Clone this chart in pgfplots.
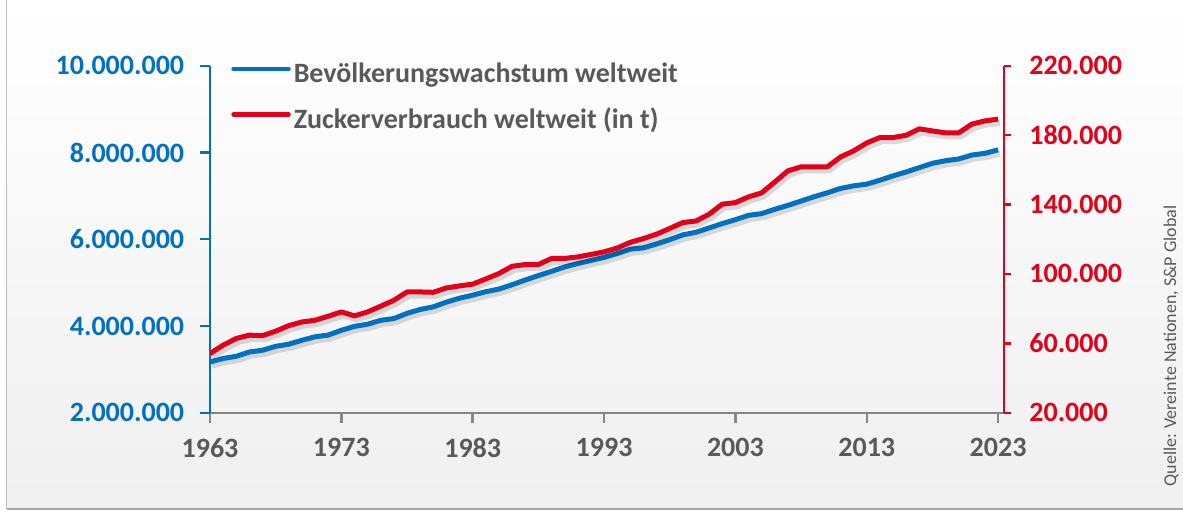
\documentclass[border=0pt]{standalone}
\usepackage{pgfplots}
\pgfplotsset{compat=1.18}
\usepackage{pgfplotstable}
\usepackage{fontspec}
\setmainfont{Carlito}
\definecolor{cblue}{HTML}{0070C0}
\definecolor{cred}{HTML}{E2001A}
\definecolor{ctext}{HTML}{595959}
\definecolor{caxis}{HTML}{868686}

\pgfplotstableread{
year pop
1963 3170000
1964 3250000
1965 3300000
1966 3400000
1967 3440000
1968 3530000
1969 3580000
1970 3670000
1971 3750000
1972 3790000
1973 3900000
1974 3990000
1975 4040000
1976 4130000
1977 4170000
1978 4290000
1979 4380000
1980 4440000
1981 4550000
1982 4640000
1983 4710000
1984 4790000
1985 4850000
1986 4950000
1987 5060000
1988 5160000
1989 5260000
1990 5360000
1991 5440000
1992 5510000
1993 5580000
1994 5670000
1995 5770000
1996 5800000
1997 5890000
1998 5990000
1999 6100000
2000 6160000
2001 6260000
2002 6360000
2003 6450000
2004 6550000
2005 6590000
2006 6690000
2007 6780000
2008 6880000
2009 6980000
2010 7070000
2011 7170000
2012 7230000
2013 7270000
2014 7360000
2015 7460000
2016 7550000
2017 7650000
2018 7750000
2019 7810000
2020 7850000
2021 7940000
2022 7980000
2023 8060000
}\popdata

\pgfplotstableread{
year sugar
1963 54100
1964 58900
1965 62800
1966 64700
1967 64400
1968 67000
1969 70200
1970 72300
1971 73300
1972 75600
1973 78100
1974 75800
1975 78100
1976 81400
1977 84800
1978 89600
1979 89600
1980 89400
1981 91900
1982 93100
1983 94100
1984 97100
1985 100200
1986 104400
1987 105400
1988 105400
1989 108900
1990 108900
1991 109800
1992 111200
1993 112700
1994 114900
1995 118200
1996 120400
1997 122900
1998 126200
1999 129600
2000 130500
2001 134400
2002 140200
2003 141100
2004 144400
2005 146700
2006 153000
2007 159400
2008 161700
2009 161700
2010 161700
2011 167400
2012 170900
2013 175500
2014 178600
2015 178600
2016 179900
2017 183600
2018 182400
2019 181300
2020 181300
2021 186300
2022 188200
2023 189200
}\sugardata

\newcommand\tickfont{\fontsize{14}{16.5}\selectfont\bfseries}

\begin{document}
\begin{tikzpicture}
\useasboundingbox (-105pt,-49.15pt) rectangle (486.5pt,206.35pt);
\shade[top color=white, bottom color=black!6] (-101.5pt,-48.15pt) rectangle (486.5pt,206.35pt);
\draw[black!25, line width=0.5pt] (-101.5pt,206.35pt) -- (-101.5pt,-48.15pt);
\draw[black!35, line width=1pt] (-101.5pt,-48.15pt) -- (486.5pt,-48.15pt);

\begin{axis}[
  at={(0pt,0pt)}, anchor=south west,
  scale only axis, width=397pt, height=173.5pt,
  xmin=1963, xmax=2023.45, ymin=2000000, ymax=10000000,
  axis x line*=bottom, axis y line*=left,
  axis line style={-},
  x axis line style={caxis, line width=1.2pt},
  y axis line style={cblue, line width=1.2pt},
  tick align=outside,
  major tick length=5pt,
  xtick={1963,1973,1983,1993,2003,2013,2023},
  xticklabels={1963,1973,1983,1993,2003,2013,2023},
  ytick={2000000,4000000,6000000,8000000,10000000},
  yticklabels={2.000.000,4.000.000,6.000.000,8.000.000,10.000.000},
  scaled y ticks=false,
  xtick style={caxis, line width=1.2pt},
  ytick style={cblue, line width=1.2pt},
  xticklabel style={font=\tickfont, text=ctext, yshift=-4.2pt},
  yticklabel style={font=\tickfont, text=cblue, xshift=-4.4pt},
  clip=false,
  legend cell align=left,
  legend image code/.code={\draw[#1, line width=2.2pt, line cap=round] (0pt,3.3pt) -- (27.5pt,3.3pt);},
  legend style={draw=none, fill=none, at={(0.0264,1.0098)}, anchor=north west,
    font=\tickfont, text=ctext, inner sep=0pt, row sep=9.7pt,
    nodes={inner sep=0pt, text height=10pt, text depth=3pt},
    /tikz/every odd column/.append style={column sep=1.5pt}},
]
\addplot[forget plot, black, opacity=0.13, line width=3pt, line join=round,
  transform canvas={shift={(1pt,-1.8pt)}}] table[x=year, y=pop] {\popdata};
\addplot[cblue, line width=2.5pt, line join=round] table[x=year, y=pop] {\popdata};
\addlegendentry{Bevölkerungswachstum weltweit}
\addlegendimage{cred, line width=2.5pt}
\addlegendentry{Zuckerverbrauch weltweit (in t)}
\end{axis}

\begin{axis}[
  at={(0pt,0pt)}, anchor=south west,
  scale only axis, width=397pt, height=173.5pt,
  xmin=1963, xmax=2023.45, ymin=20000, ymax=220000,
  hide x axis,
  axis y line*=right,
  axis line style={-},
  y axis line style={cred, line width=1.2pt},
  tick align=outside,
  major tick length=3.5pt,
  ytick={20000,60000,100000,140000,180000,220000},
  yticklabels={20.000,60.000,100.000,140.000,180.000,220.000},
  scaled y ticks=false,
  ytick style={cred, line width=1.2pt},
  yticklabel style={font=\tickfont, text=cred, xshift=5.65pt},
]
\addplot[black, opacity=0.13, line width=3pt, line join=round,
  transform canvas={shift={(1pt,-1.8pt)}}] table[x=year, y=sugar] {\sugardata};
\addplot[cred, line width=2.5pt, line join=round] table[x=year, y=sugar] {\sugardata};
\end{axis}

\node[rotate=90, text=ctext, font=\fontsize{9}{11}\selectfont, inner sep=0pt] at (480.5pt,33.3pt) {Quelle: Vereinte Nationen, S\&P Global};
\end{tikzpicture}
\end{document}
